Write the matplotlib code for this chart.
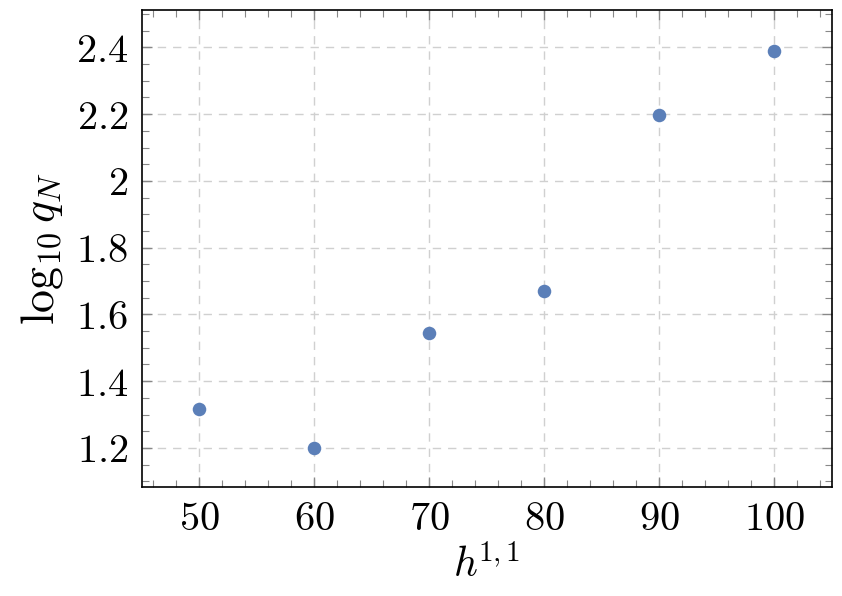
import matplotlib
matplotlib.use("Agg")
import matplotlib.pyplot as plt
from matplotlib.ticker import MultipleLocator, FuncFormatter

plt.rcParams['mathtext.fontset'] = 'cm'
plt.rcParams['font.family'] = ['DejaVu Serif']

h11 = [50, 60, 70, 80, 90, 100]
log_qN = [1.316, 1.200, 1.545, 1.670, 2.197, 2.390]

fig = plt.figure(figsize=(8.42, 5.96), dpi=100)
ax = fig.add_axes([0.1686, 0.1829, 0.8195, 0.8003])

ax.scatter(h11, log_qN, s=95, color='#5b7fb8', zorder=3, linewidths=0)

ax.set_xlim(45, 105.05)
ax.set_ylim(1.083, 2.512)

ax.xaxis.set_major_locator(MultipleLocator(10))
ax.xaxis.set_minor_locator(MultipleLocator(2))
ax.yaxis.set_major_locator(MultipleLocator(0.2))
ax.yaxis.set_minor_locator(MultipleLocator(0.05))

fmt = FuncFormatter(lambda v, p: r'$%g$' % round(v, 2))
ax.xaxis.set_major_formatter(fmt)
ax.yaxis.set_major_formatter(fmt)

ax.grid(True, which='major', linestyle=(0, (6, 5)), color='#d0d0d0', linewidth=1.0, zorder=0)
ax.tick_params(which='both', direction='in', top=True, right=True, color='#888888', labelsize=29)
ax.tick_params(which='major', length=7, width=1.0, pad=10)
ax.tick_params(which='minor', length=5, width=0.8)
for s in ax.spines.values():
    s.set_linewidth(1.2)
    s.set_color('black')

ax.set_xlabel(r'$h^{\!1,1}$', fontsize=30, labelpad=5)
ax.set_ylabel(r'$\log_{10}q_N$', fontsize=33, labelpad=8)

fig.savefig('out.png', dpi=100)
